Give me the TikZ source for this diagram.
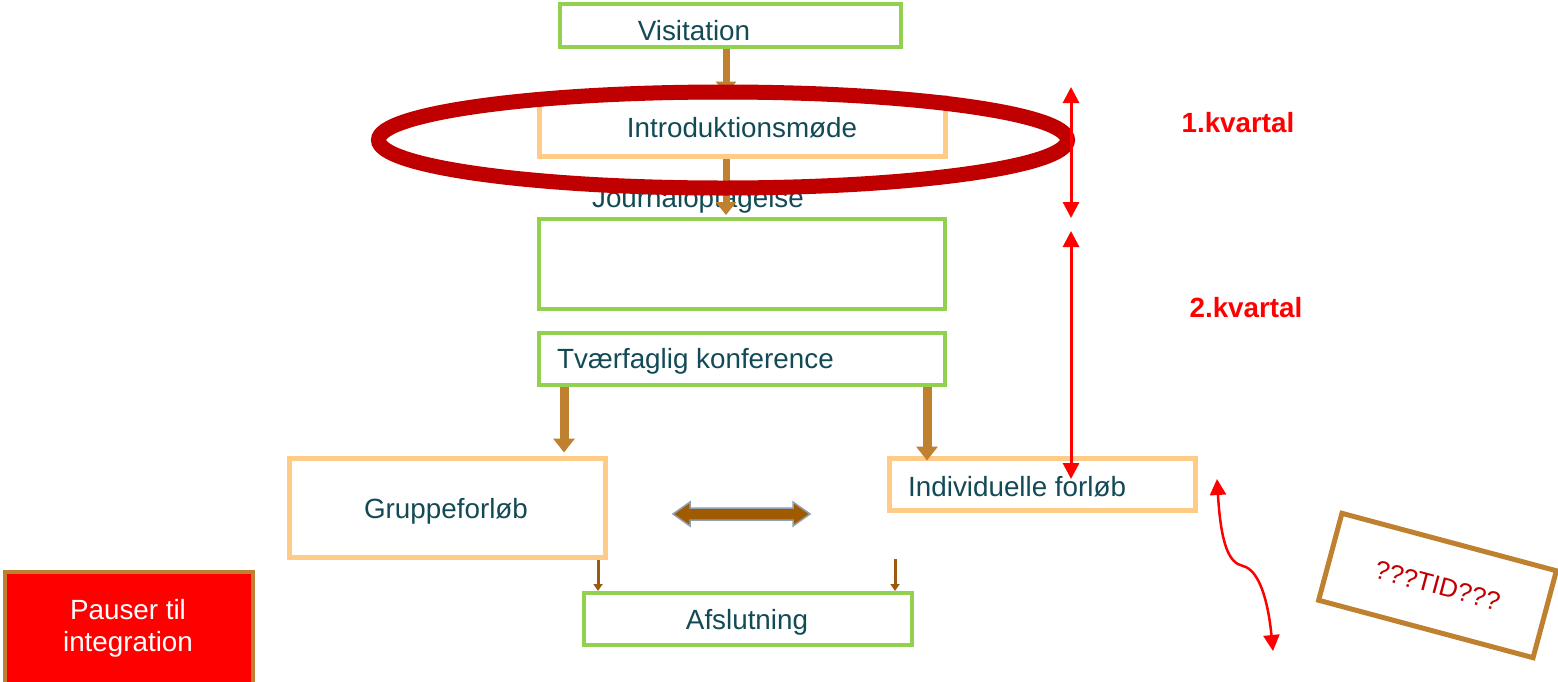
\documentclass[tikz,border=0pt]{standalone}
\usepackage{fontspec}
\setmainfont{Liberation Sans}
\usetikzlibrary{arrows.meta,calc}
\definecolor{boxgreen}{HTML}{92D050}
\definecolor{boxorange}{HTML}{FFCC88}
\definecolor{arrbrown}{HTML}{BF8030}
\definecolor{darkbrown}{HTML}{9C5A0E}
\definecolor{dblbrown}{HTML}{A05A00}
\definecolor{dblgray}{HTML}{8FA0AE}
\definecolor{txtteal}{HTML}{124A56}
\definecolor{ringred}{HTML}{C00000}
\definecolor{pured}{HTML}{FF0000}
\newcommand\bigfs{\fontsize{27.8}{32}\selectfont}
\tikzset{
  greenbox/.style={draw=boxgreen,line width=4pt,rectangle,inner sep=0pt,fill=none},
  orangebox/.style={draw=boxorange,line width=5pt,rectangle,inner sep=0pt},
  lbl/.style={text=txtteal,font=\bigfs,inner sep=0pt},
  brownarr/.style={draw=arrbrown,line width=7pt,-{Triangle[width=20pt,length=13pt]}},
  brownarrw/.style={draw=arrbrown,line width=9pt,-{Triangle[width=21pt,length=14pt]}},
  thinarr/.style={draw=darkbrown,line width=3pt,-{Triangle[width=9pt,length=7pt]}},
  redarr/.style={draw=pured,line width=3pt,{Triangle[width=16pt,length=16pt]}-{Triangle[width=16pt,length=16pt]}},
  kv/.style={text=pured,font=\bigfs\bfseries,inner sep=0pt},
}
\begin{document}
\begin{tikzpicture}[x=1pt,y=-1pt]
\useasboundingbox (0,0) rectangle (1558,681);
% boxes
\node[greenbox,minimum width=341,minimum height=43] (vis) at (730.5,25.5) {};
\node[orangebox,minimum width=406,minimum height=59] (intro) at (742,126.5) {};
\node[greenbox,minimum width=406,minimum height=90] (journal) at (742,264) {};
\node[greenbox,minimum width=406,minimum height=52] (tvaer) at (742,359) {};
\node[orangebox,minimum width=316,minimum height=99] (gruppe) at (447,507.5) {};
\node[orangebox,minimum width=306,minimum height=52] (indiv) at (1042,484) {};
\node[greenbox,minimum width=328,minimum height=52] (afsl) at (748,619) {};
\node[draw=arrbrown,fill=pured,line width=4pt,rectangle,minimum width=248,minimum height=114,inner sep=0pt] (pauser) at (129,629) {};
% texts
\node[lbl] (tvis) at (694,31) {Visitation};
\node[lbl] (tintro) at (742,128) {Introduktionsmøde};
\node[lbl] (tjour) at (698,200) {Journaloptagelse};
\node[lbl,anchor=west] (ttvaer) at (557,361) {Tværfaglig konference};
\node[lbl] (tgruppe) at (446,511) {Gruppeforløb};
\node[lbl,anchor=west] (tindiv) at (908,487) {Individuelle forløb};
\node[lbl] (tafsl) at (747,622) {Afslutning};
\node[text=white,font=\bigfs,align=center,inner sep=0pt] (tpauser) at (128,628) {Pauser til\\integration};
\node[kv] (k1) at (1238,123) {1.kvartal};
\node[kv] (k2) at (1246,308) {2.kvartal};
% rotated box
\node[draw=arrbrown,line width=5pt,rectangle,rotate=-15,minimum width=222,minimum height=90,inner sep=0pt,text=ringred,font=\fontsize{26}{30}\selectfont] (tid) at (1437.5,585.5) {???TID???};
% coordinates for connectors
\coordinate (xa) at (726,0);
\coordinate (xb) at (564,0);
\coordinate (xc) at (927,0);
\coordinate (xd) at (598,0);
\coordinate (xe) at (895,559);
\coordinate (r1a) at (1071,87);
\coordinate (r1b) at (1071,218);
\coordinate (r2a) at (1071,231);
\coordinate (r2b) at (1071,479);
\coordinate (ca) at (1217,479);
\coordinate (cm) at (1243,566);
\coordinate (cb) at (1273,651);
% brown connectors
\draw[brownarr] (vis.south -| xa) -- (intro.north -| xa);
\draw[brownarr] (intro.south -| xa) -- ([yshift=2]journal.north -| xa);
\draw[brownarrw] (tvaer.south -| xb) -- ([yshift=3]gruppe.north -| xb);
\draw[brownarrw] (tvaer.south -| xc) -- ([yshift=-5]indiv.north -| xc);
\draw[thinarr] (gruppe.south -| xd) -- (afsl.north -| xd);
\draw[thinarr] (xe) -- (afsl.north -| xe);
% ring
\draw[ringred,line width=15pt] (tintro.center) ++(-19,12) ellipse [x radius=344.5,y radius=48];
% double arrow between the pathways
\coordinate (dl) at (673,514);
\coordinate (dr) at (810,514);
\filldraw[fill=dblbrown,draw=dblgray,line width=1.5pt]
  (dl) -- ++(17,-12) -- ++(0,6) -- ++(103,0) -- ++(0,-6) -- (dr)
  -- ++(-17,12) -- ++(0,-6) -- ++(-103,0) -- ++(0,6) -- cycle;
% red time arrows
\draw[redarr] (r1a) -- (r1b);
\draw[redarr] (r2a) -- (r2b);
\draw[redarr,line width=2.5pt] (ca) .. controls (1221,545) and (1229,563) .. (cm) .. controls (1259,570) and (1268,600) .. (cb);
\end{tikzpicture}
\end{document}
